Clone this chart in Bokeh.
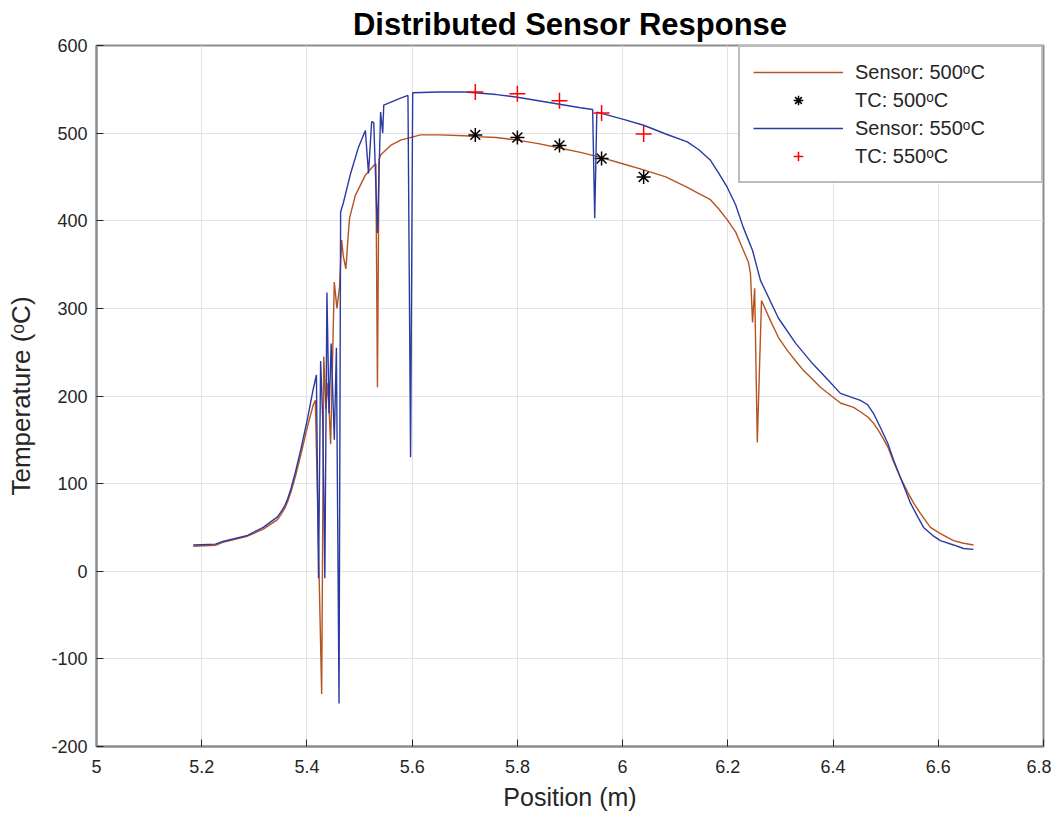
from bokeh.plotting import figure
from bokeh.models import FixedTicker, Legend, LegendItem
from bokeh.embed import file_html
from bokeh.resources import INLINE

# ---------------- data ----------------
sensor500_x = [5.184, 5.226, 5.240, 5.287, 5.317, 5.344, 5.352, 5.358, 5.363, 5.370, 5.378, 5.388, 5.401, 5.412, 5.416,
               5.428, 5.432, 5.436, 5.440, 5.445, 5.452, 5.457, 5.462, 5.466, 5.469, 5.474,
               5.478, 5.481, 5.492, 5.511, 5.527, 5.531, 5.534, 5.537, 5.540, 5.559, 5.578,
               5.616, 5.65, 5.70, 5.72, 5.76, 5.80, 5.84, 5.88, 5.92, 5.96, 6.00, 6.04,
               6.082, 6.123, 6.145, 6.167, 6.182, 6.199, 6.215, 6.224, 6.239, 6.243,
               6.247, 6.251, 6.256, 6.264, 6.281, 6.296, 6.313, 6.329, 6.344, 6.361, 6.376,
               6.393, 6.414, 6.439, 6.452, 6.466, 6.477, 6.490, 6.504, 6.515, 6.528, 6.542,
               6.553, 6.566, 6.585, 6.604, 6.629, 6.648, 6.667]
sensor500_y = [28.5, 29.7, 33, 40, 48, 59, 66, 72, 79, 91, 108, 132, 165, 190, 195,
               -140, 245, 185, 215, 145, 330, 300, 325, 378, 360, 345,
               380, 403, 429, 452, 463, 465, 210, 470, 475, 486, 492,
               498, 498, 497, 496, 495, 492, 488, 483, 478, 472, 465, 458,
               450, 438, 431, 424, 414, 401, 387, 374, 353, 340,
               284, 323, 147, 309, 286, 267, 252, 240, 229, 219, 210,
               202, 192, 187, 182, 176, 169, 157, 142, 125, 107, 90,
               78, 66, 50, 43, 35, 32, 30]

sensor550_x = [5.184, 5.226, 5.240, 5.287, 5.317, 5.344, 5.352, 5.358, 5.363, 5.370, 5.378, 5.388, 5.401, 5.412, 5.418,
               5.422, 5.426, 5.430, 5.434, 5.438, 5.442, 5.446, 5.452, 5.456, 5.461, 5.464,
               5.469, 5.483, 5.498, 5.511, 5.517, 5.523, 5.527, 5.534, 5.540, 5.544, 5.546,
               5.578, 5.592, 5.597, 5.601, 5.65, 5.70, 5.72, 5.76, 5.80, 5.84, 5.88, 5.92,
               5.943, 5.947, 5.951, 6.00, 6.04, 6.082, 6.123, 6.145, 6.167, 6.182, 6.199,
               6.215, 6.229, 6.247, 6.262, 6.296, 6.329, 6.361, 6.391, 6.414, 6.452, 6.466,
               6.477, 6.490, 6.504, 6.515, 6.528, 6.538, 6.547, 6.561, 6.572, 6.589, 6.604,
               6.629, 6.648, 6.667]
sensor550_y = [30, 31, 34, 41, 50, 62, 69, 75, 82, 95, 113, 138, 174, 208, 224,
               -8, 240, 175, -8, 318, 180, 260, 150, 255, -151, 410,
               420, 454, 484, 503, 454, 513, 512, 386, 524, 500, 532,
               540, 543, 130, 546, 547, 547, 546, 544, 541, 537, 533, 529,
               527, 403, 524, 516, 509, 499, 490, 481, 469, 455, 438,
               418, 393, 366, 332, 289, 260, 237, 218, 203, 195, 190,
               180, 164, 146, 127, 107, 92, 78, 62, 50, 41, 35,
               30, 26, 25]

tc_x = [5.72, 5.80, 5.88, 5.96, 6.04]
tc500_y = [498, 495, 486, 471, 450]
tc550_y = [547, 545, 537, 523, 499]

x_ticks = [5.0, 5.2, 5.4, 5.6, 5.8, 6.0, 6.2, 6.4, 6.6, 6.8]
x_labels = ["5", "5.2", "5.4", "5.6", "5.8", "6", "6.2", "6.4", "6.6", "6.8"]
y_ticks = [-200, -100, 0, 100, 200, 300, 400, 500, 600]
y_labels = ["-200", "-100", "0", "100", "200", "300", "400", "500", "600"]

title_text = "Distributed Sensor Response"
legend_labels = ["Sensor: 500\u1d52C", "TC: 500\u1d52C", "Sensor: 550\u1d52C", "TC: 550\u1d52C"]

# ---------------- figure ----------------
FONT = "Liberation Sans"
TXT = "#262626"
AX = "#8c8c8c"

p = figure(frame_width=947, frame_height=701,
           x_range=(5.0, 6.8), y_range=(-200, 600),
           output_backend="svg", toolbar_location=None,
           min_border_left=96, min_border_top=45, min_border_right=8, min_border_bottom=60,
           title=title_text)
p.background_fill_color = "white"
p.border_fill_color = "white"
p.outline_line_color = AX
p.outline_line_width = 2

p.title.align = "center"
p.title.text_font = FONT
p.title.text_font_size = "31px"
p.title.text_font_style = "bold"
p.title.text_color = "black"
p.title.offset = 0
p.title.standoff = 8

for ax, ticks, labels in ((p.xaxis[0], x_ticks, x_labels), (p.yaxis[0], y_ticks, y_labels)):
    ax.ticker = FixedTicker(ticks=ticks)
    ax.major_label_overrides = {t: l for t, l in zip(ticks, labels)}
    ax.major_tick_in = 7
    ax.major_tick_out = 0
    ax.minor_tick_in = 0
    ax.minor_tick_out = 0
    ax.axis_line_color = AX
    ax.axis_line_width = 2
    ax.major_tick_line_color = TXT
    ax.major_label_text_font = FONT
    ax.major_label_text_font_size = "18px"
    ax.major_label_text_color = TXT
    ax.axis_label_text_font = FONT
    ax.axis_label_text_font_size = "25px"
    ax.axis_label_text_font_style = "normal"
    ax.axis_label_text_color = TXT

p.xaxis.axis_label = "Position (m)"
p.yaxis.axis_label = "Temperature (\u1d52C)"
p.yaxis.axis_label_text_font_size = "26px"
p.xaxis.major_label_standoff = 13
p.yaxis.major_label_standoff = 9
p.xaxis.axis_label_standoff = 7
p.yaxis.axis_label_standoff = 12

p.grid.grid_line_color = "#e3e3e3"
p.grid.grid_line_width = 1

r1 = p.line(sensor500_x, sensor500_y, line_color="#b5541f", line_width=1.4)
r2 = p.scatter(tc_x, tc500_y, marker="asterisk", size=14, line_color="black", line_width=1.5)
r3 = p.line(sensor550_x, sensor550_y, line_color="#2b3aa3", line_width=1.4)
r4 = p.scatter(tc_x, tc550_y, marker="cross", size=16, line_color="red", line_width=1.5)

legend = Legend(items=[LegendItem(label=legend_labels[i], renderers=[r]) for i, r in enumerate((r1, r2, r3, r4))],
                location="top_right")
legend.margin = 0
legend.padding = 13
legend.spacing = 4
legend.glyph_width = 90
legend.glyph_height = 24
legend.label_height = 24
legend.label_width = 173
legend.label_standoff = 12
legend.label_text_font = FONT
legend.label_text_font_size = "20px"
legend.label_text_color = TXT
legend.border_line_color = "#7a7a7a"
legend.border_line_width = 2
legend.background_fill_color = "white"
legend.background_fill_alpha = 1
p.add_layout(legend)

open("out.html", "w").write(file_html(p, INLINE))
